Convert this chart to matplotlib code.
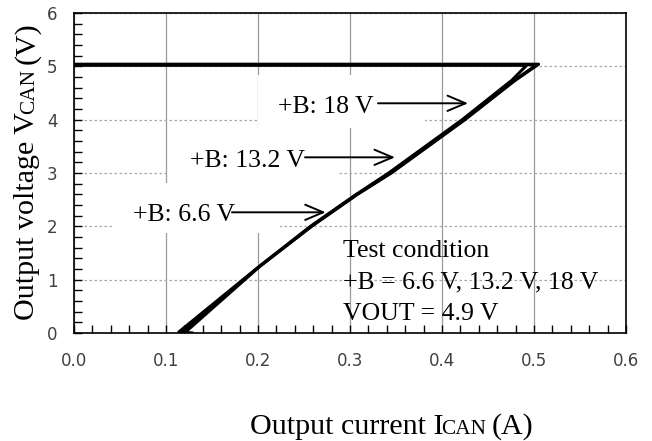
import matplotlib
matplotlib.use("Agg")
import matplotlib.pyplot as plt
from matplotlib.patches import Rectangle
from matplotlib.ticker import MultipleLocator
from matplotlib.transforms import IdentityTransform

# Output current (A) / output voltage (V) for each supply voltage +B
current_66 = [0.0, 0.492, 0.476, 0.422, 0.342, 0.306, 0.257, 0.200, 0.114, 0.129]
voltage_66 = [5.02, 5.02, 4.74, 4.00, 3.00, 2.59, 2.00, 1.23, 0.02, 0.00]

current_132 = [0.0, 0.503, 0.478, 0.424, 0.344, 0.307, 0.258, 0.201, 0.117]
voltage_132 = [5.03, 5.03, 4.73, 4.00, 3.00, 2.59, 2.00, 1.24, 0.00]

current_18 = [0.0, 0.505, 0.479, 0.425, 0.345, 0.308, 0.259, 0.202, 0.120]
voltage_18 = [5.04, 5.04, 4.73, 4.00, 3.00, 2.60, 2.01, 1.25, 0.00]

series_labels = ["+B: 6.6 V", "+B: 13.2 V", "+B: 18 V"]
x_ticks = [0.0, 0.1, 0.2, 0.3, 0.4, 0.5, 0.6]
x_tick_labels = ["0.0", "0.1", "0.2", "0.3", "0.4", "0.5", "0.6"]
y_ticks = [0, 1, 2, 3, 4, 5, 6]
y_tick_labels = ["0", "1", "2", "3", "4", "5", "6"]
condition_lines = ["Test condition", "+B = 6.6 V, 13.2 V, 18 V", "VOUT = 4.9 V"]

SERIF = ["Liberation Serif", "DejaVu Serif"]
W, H = 652, 441

fig = plt.figure(figsize=(W / 100, H / 100), dpi=100)
ax = fig.add_axes([74 / W, (H - 333) / H, 552 / W, 320 / H])

ax.set_xlim(0, 0.6)
ax.set_ylim(0, 6)
ax.set_xticks(x_ticks, labels=x_tick_labels)
ax.set_yticks(y_ticks, labels=y_tick_labels)
ax.xaxis.set_minor_locator(MultipleLocator(0.02))
ax.yaxis.set_minor_locator(MultipleLocator(0.2))
ax.tick_params(which="both", direction="in", length=6, width=1, color="black",
               top=False, right=False)
ax.tick_params(axis="x", which="major", pad=13.5, labelsize=12, labelcolor="#404040")
ax.tick_params(axis="y", which="major", pad=12, labelsize=12, labelcolor="#404040")
for side in ax.spines.values():
    side.set_linewidth(1.2)
    side.set_color("black")

ax.set_axisbelow(True)
ax.grid(axis="x", which="major", color="#9a9a9a", linewidth=0.9, linestyle="-")
ax.grid(axis="y", which="major", color="#a8a8a8", linewidth=0.9, linestyle=(0, (2, 2)))

# measured curves
for xs, ys in [(current_66, voltage_66), (current_132, voltage_132), (current_18, voltage_18)]:
    ax.plot(xs, ys, color="black", linewidth=2.2, solid_joinstyle="round",
            solid_capstyle="round", zorder=4)

# labelled arrows: white label box, text, arrow pointing at the curve
callouts = [
    # (box x0, box y0, box x1, box y1), text pos, arrow tail, arrow tip
    ((0.0413, 1.875, 0.2239, 2.8125), (0.0645, 2.106), (0.1717, 2.263), (0.2736, 2.263)),
    ((0.1022, 2.8125, 0.2859, 3.844), (0.1260, 3.118), (0.2511, 3.294), (0.3489, 3.294)),
    ((0.2000, 3.844, 0.3815, 4.838), (0.2217, 4.125), (0.3304, 4.307), (0.4283, 4.307)),
]
for label, (box, tpos, tail, tip) in zip(series_labels, callouts):
    ax.add_patch(Rectangle((box[0], box[1]), box[2] - box[0], box[3] - box[1],
                           facecolor="white", edgecolor="none", zorder=1.5))
    ax.text(tpos[0], tpos[1], label, family=SERIF, fontsize=18.5, color="black",
            ha="left", va="baseline", zorder=5)
    ax.annotate("", xy=tip, xytext=tail,
                arrowprops=dict(arrowstyle="->,head_length=1.3,head_width=0.55",
                                mutation_scale=10, color="black", linewidth=1.4,
                                shrinkA=0, shrinkB=0),
                zorder=5)

for i, line in enumerate(condition_lines):
    ax.text(0.2924, 1.431 - i * 0.594, line, family=SERIF, fontsize=18.5,
            color="black", ha="left", va="baseline", zorder=5)


def text_run(parts, x, y, rotation):
    """Place text pieces one after another (pixel coordinates)."""
    renderer = fig.canvas.get_renderer()
    for s, size, gap in parts:
        t = fig.text(x, y, s, transform=IdentityTransform(), family=SERIF,
                     fontsize=size, rotation=rotation, rotation_mode="anchor",
                     ha="left", va="baseline", color="black")
        bb = t.get_window_extent(renderer)
        if rotation == 0:
            x += bb.width + gap
        else:
            y += bb.height + gap


text_run([("Output current I", 21.6, -2), ("CAN", 15.3, 5), ("(A)", 21.6, 0)],
         250, H - 434, 0)
text_run([("Output voltage V", 21.6, -2), ("CAN", 15.3, 5), ("(V)", 21.6, 0)],
         34, H - 320, 90)

fig.savefig("out.png", dpi=100)
